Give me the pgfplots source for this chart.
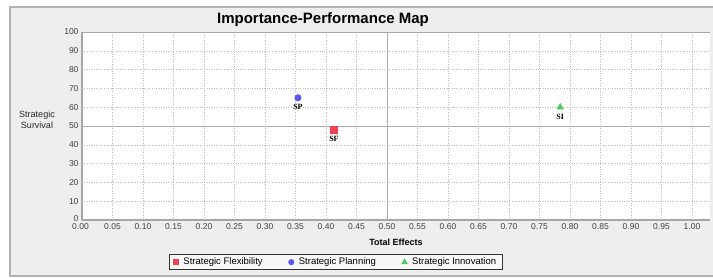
\documentclass[border=0pt]{standalone}
\usepackage{pgfplots}
\pgfplotsset{compat=1.18}
\usepackage{fontspec}
\setmainfont{Liberation Sans}
\newfontfamily\serifb{Liberation Serif}
\definecolor{sfcol}{RGB}{236,66,82}
\definecolor{spcol}{RGB}{92,88,236}
\definecolor{sicol}{RGB}{84,200,104}
\definecolor{framebg}{RGB}{238,238,238}
\begin{document}
\begin{tikzpicture}[x=1pt,y=1pt]
\useasboundingbox (0,0) rectangle (713,-278);
\fill[white] (0,0) rectangle (713,-278);
\draw[gray!60, line width=1.2pt, fill=framebg] (10,-7) rectangle (720,-276);
\node[font=\bfseries\fontsize{15}{17}\selectfont] at (323,-20) {Importance-Performance Map};
\node[align=center, font=\fontsize{9}{10.5}\selectfont, text=black!85] at (37,-120) {Strategic\\Survival};
\begin{axis}[
  at={(82pt,-220pt)}, anchor=south west,
  scale only axis, width=628pt, height=188pt,
  xmin=0, xmax=1.0295, ymin=0, ymax=100,
  axis background/.style={fill=white},
  xtick={0,0.05,0.10,0.15,0.20,0.25,0.30,0.35,0.40,0.45,0.50,0.55,0.60,0.65,0.70,0.75,0.80,0.85,0.90,0.95,1.00},
  xticklabels={\raisebox{-3pt}{\hspace*{-3pt}0.00},0.05,0.10,0.15,0.20,0.25,0.30,0.35,0.40,0.45,0.50,0.55,0.60,0.65,0.70,0.75,0.80,0.85,0.90,0.95,1.00},
  ytick={0,10,20,30,40,50,60,70,80,90,100},
  yticklabels={\raisebox{3pt}{0},10,20,30,40,50,60,70,80,90,100},
  tick label style={font=\fontsize{8.5}{9.5}\selectfont, text=black!75},
  grid=major, grid style={dotted, gray!50},
  major tick length=0pt,
  axis lines*=left,
  axis line style={gray!70, line width=1.2pt, -},
  xlabel={\bfseries Total Effects},
  xlabel style={at={(axis description cs:0.5,-0.117)}, anchor=center, font=\fontsize{9}{10}\selectfont},
  legend style={at={(axis description cs:0.404,-0.181)}, anchor=north,
    legend columns=3, draw=black!80, line width=0.8pt, fill=gray!6,
    font=\fontsize{9.5}{10.5}\selectfont, inner ysep=1.5pt, inner xsep=4pt,
    /tikz/every odd column/.append style={column sep=3pt},
    /tikz/every even column/.append style={column sep=24pt}},
  legend cell align=left,
]
\draw[gray!70, line width=1.2pt] (rel axis cs:0,1) -- (rel axis cs:1,1);
\draw[gray!65, line width=1pt] (axis cs:0.5,0) -- (axis cs:0.5,100);
\draw[gray!65, line width=1pt] (axis cs:0,50) -- (axis cs:1.0295,50);
\addplot[only marks, mark=square*, mark size=3.3pt, color=sfcol, legend image post style={mark size=2.6pt}] coordinates {(0.413,48)};
\addlegendentry{Strategic Flexibility}
\addplot[only marks, mark=*, mark size=3.3pt, color=spcol, legend image post style={mark size=2.6pt}] coordinates {(0.354,65)};
\addlegendentry{Strategic Planning}
\addplot[only marks, mark=triangle*, mark size=3.8pt, color=sicol, legend image post style={mark size=3pt}] coordinates {(0.784,60)};
\addlegendentry{Strategic Innovation}
\node[font=\serifb\bfseries\fontsize{8}{9}\selectfont, yshift=-9.5pt] at (axis cs:0.413,48) {SF};
\node[font=\serifb\bfseries\fontsize{8}{9}\selectfont, yshift=-9.5pt] at (axis cs:0.354,65) {SP};
\node[font=\serifb\bfseries\fontsize{8}{9}\selectfont, yshift=-9.5pt] at (axis cs:0.784,60) {SI};
\end{axis}
\end{tikzpicture}
\end{document}
